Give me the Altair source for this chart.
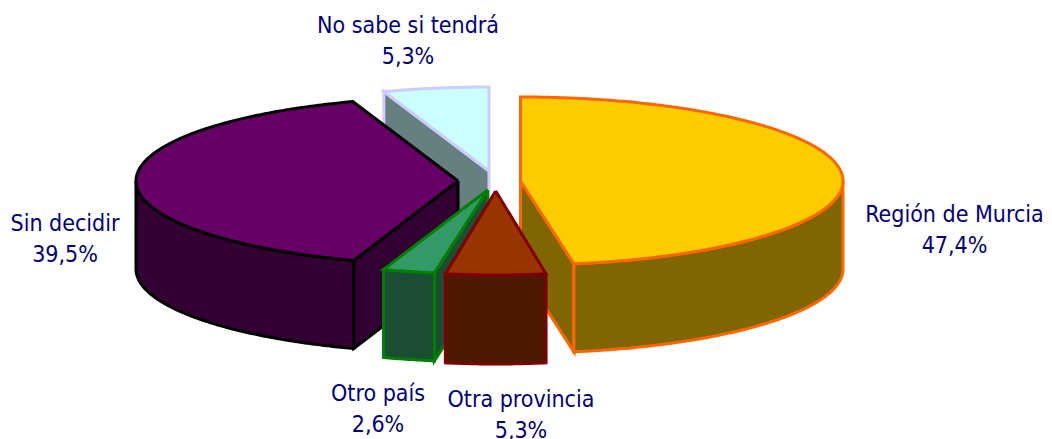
import math
import altair as alt
import pandas as pd

# Data
categories = ["Región de Murcia", "Otra provincia", "Otro país", "Sin decidir", "No sabe si tendrá"]
percent = [47.4, 5.3, 2.6, 39.5, 5.3]
percent_text = ["47,4%", "5,3%", "2,6%", "39,5%", "5,3%"]

# Styles
top_fill = ["#FFCC00", "#993300", "#339966", "#660066", "#CCFFFF"]
side_fill = ["#806600", "#4D1A00", "#1A4D33", "#330033", "#667F7F"]
edge = ["#FF6600", "#800000", "#008000", "#000000", "#CCCCFF"]
apex = [(520.5, 181), (495.7, 191), (487.7, 190), (458, 181), (489, 171)]
radius_x = [322.5, 304, 322, 322, 322]
RY = 84
DEPTH = 88
label_pos = [(954.5, 215), (521, 400), (378, 394), (65, 224), (408, 26)]
draw_order = [4, 0, 3, 2, 1]
W, H = 1036, 431

x_scale = alt.Scale(domain=[8, 8 + W], nice=False, zero=False)
y_scale = alt.Scale(domain=[8, 8 + H], reverse=True, nice=False, zero=False)


def arc(i, a, b, dy=0.0):
    n = max(2, int(abs(b - a)) * 2)
    ax, ay = apex[i]
    pts = []
    for k in range(n + 1):
        t = math.radians(a + (b - a) * k / n)
        pts.append((ax + radius_x[i] * math.sin(t), ay - RY * math.cos(t) + dy))
    return pts


def piece(points, fill, stroke):
    pts = list(points) + [points[0]]
    df = pd.DataFrame({"x": [p[0] for p in pts], "y": [p[1] for p in pts], "i": range(len(pts))})
    return alt.Chart(df).mark_line(
        fill=fill, stroke=stroke, strokeWidth=3, strokeJoin="miter", strokeMiterLimit=10
    ).encode(
        x=alt.X("x:Q", scale=x_scale, axis=None),
        y=alt.Y("y:Q", scale=y_scale, axis=None),
        order=alt.Order("i:Q"),
    )


total = sum(percent)
starts, ends, run = [], [], 0.0
for p in percent:
    starts.append(run / total * 360)
    run += p
    ends.append(run / total * 360)

# which cut edge of each slice shows a flat wall towards the viewer
wall_angle = {0: ends[0], 2: starts[2], 3: starts[3], 4: starts[4]}

layers = []
for i in draw_order:
    a, b = starts[i], ends[i]
    ax, ay = apex[i]
    d = DEPTH + (1 if i == 1 else 0)
    if i in wall_angle:
        ang = wall_angle[i]
        ex, ey = arc(i, ang, ang + 1)[0]
        layers.append(piece([(ax, ay), (ex, ey), (ex, ey + d), (ax, ay + d)], side_fill[i], edge[i]))
    # outer curved wall (front half only)
    fa, fb = max(a, 90), min(b, 270)
    if fb > fa:
        top = arc(i, fa, fb)
        bottom = arc(i, fb, fa, d)
        layers.append(piece(top + bottom, side_fill[i], edge[i]))
    # top face
    layers.append(piece([(ax, ay)] + arc(i, a, b), top_fill[i], edge[i]))

rows_x, rows_y, rows_t = [], [], []
for i, (lx, ly) in enumerate(label_pos):
    rows_x += [lx, lx]
    rows_y += [ly, ly + 31]
    rows_t += [categories[i], percent_text[i]]
labels = alt.Chart(pd.DataFrame({"x": rows_x, "y": rows_y, "t": rows_t})).mark_text(
    font="DejaVu Sans Condensed", fontSize=23, color="#000080", align="center", baseline="middle"
).encode(
    x=alt.X("x:Q", scale=x_scale, axis=None),
    y=alt.Y("y:Q", scale=y_scale, axis=None),
    text="t:N",
)

chart = alt.layer(*layers, labels).properties(
    width=W, height=H, padding=0, autosize=alt.AutoSizeParams(type="none")
).configure_view(stroke=None)

chart.save("out.html", embed_options={"renderer": "svg", "actions": False})
